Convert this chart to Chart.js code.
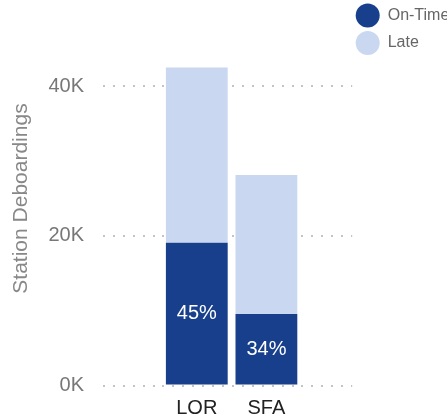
<!DOCTYPE html>
<html>
<head>
<meta charset="utf-8">
<script src="https://cdn.jsdelivr.net/npm/chart.js@4/dist/chart.umd.min.js"></script>
<style>
  html, body { margin: 0; padding: 0; background: #fff; }
  #wrap { width: 447px; height: 420px; position: relative; }
</style>
</head>
<body>
<div id="wrap"><canvas id="chart"></canvas></div>
<script>
const STATIONS = ['LOR', 'SFA'];
const ON_TIME = [19100, 9570];
const LATE = [23400, 18580];
const SERIES_NAMES = ['On-Time', 'Late'];
const Y_TICKS = [0, 20000, 40000];

const DARK = '#173f8b';
const LIGHT = '#c9d8f0';
const FONT = "'Liberation Sans', Arial, sans-serif";

// percent of on-time inside the dark segment
const pctLabels = {
  id: 'pctLabels',
  afterDatasetsDraw(c) {
    const meta = c.getDatasetMeta(0);
    const ctx = c.ctx;
    ctx.save();
    ctx.fillStyle = '#fff';
    ctx.font = `20px ${FONT}`;
    ctx.textAlign = 'center';
    ctx.textBaseline = 'middle';
    meta.data.forEach((bar, i) => {
      const total = ON_TIME[i] + LATE[i];
      const pct = Math.round(ON_TIME[i] / total * 100);
      ctx.fillText(pct + '%', bar.x, (bar.y + bar.base) / 2);
    });
    ctx.restore();
  }
};

const yTicksOnly = (scale) => {
  scale.ticks = Y_TICKS.map(v => ({ value: v }));
};
// fixed axis width, no extra label padding pushed onto the chart area
const fixWidth = (w) => (s) => {
  s.width = w;
  s.paddingTop = 0;
  s.paddingBottom = 0;
};

new Chart(document.getElementById('chart'), {
  type: 'bar',
  data: {
    labels: STATIONS,
    datasets: [
      { label: SERIES_NAMES[0], data: ON_TIME, backgroundColor: DARK, borderWidth: 0 },
      { label: SERIES_NAMES[1], data: LATE, backgroundColor: LIGHT, borderWidth: 0 }
    ]
  },
  options: {
    responsive: true,
    maintainAspectRatio: false,
    animation: false,
    events: [],
    datasets: { bar: { barPercentage: 0.888, categoryPercentage: 1 } },
    layout: { padding: 0 },
    plugins: {
      tooltip: { enabled: false },
      title: { display: true, text: '', padding: 0, font: { size: 10, lineHeight: 1.15 } },
      legend: {
        position: 'right',
        align: 'start',
        maxWidth: 94.8,
        labels: {
          boxWidth: 24,
          boxHeight: 24,
          useBorderRadius: true,
          borderRadius: 12,
          padding: 3.5,
          color: '#666',
          font: { family: FONT, size: 16 }
        }
      }
    },
    scales: {
      x: {
        stacked: true,
        afterFit: (s) => { s.height = 34.5; },
        grid: { display: false, drawTicks: false },
        border: { display: false },
        ticks: { color: '#222', padding: 10.5, font: { family: FONT, size: 20 } }
      },
      y: {
        stacked: true,
        min: 0,
        max: 50000,
        afterBuildTicks: yTicksOnly,
        afterFit: fixWidth(162),
        grid: {
          color: '#c4c4c4',
          lineWidth: 2,
          tickLength: 59,
          tickBorderDash: [2, 8]
        },
        border: { display: false, dash: [2, 8] },
        ticks: {
          color: '#777',
          padding: 19,
          font: { family: FONT, size: 20 },
          callback: (v) => (v / 1000) + 'K'
        },
        title: {
          display: true,
          text: 'Station Deboardings',
          color: '#888',
          padding: { top: 9, bottom: 0 },
          font: { family: FONT, size: 21 }
        }
      },
      y2: {
        position: 'right',
        min: 0,
        max: 50000,
        afterBuildTicks: yTicksOnly,
        afterFit: fixWidth(51),
        grid: {
          color: '#c4c4c4',
          lineWidth: 2,
          drawOnChartArea: false,
          tickLength: 51,
          tickBorderDash: [2, 8]
        },
        border: { display: false, dash: [2, 8] },
        ticks: { display: false }
      }
    }
  },
  plugins: [pctLabels]
});
</script>
</body>
</html>
